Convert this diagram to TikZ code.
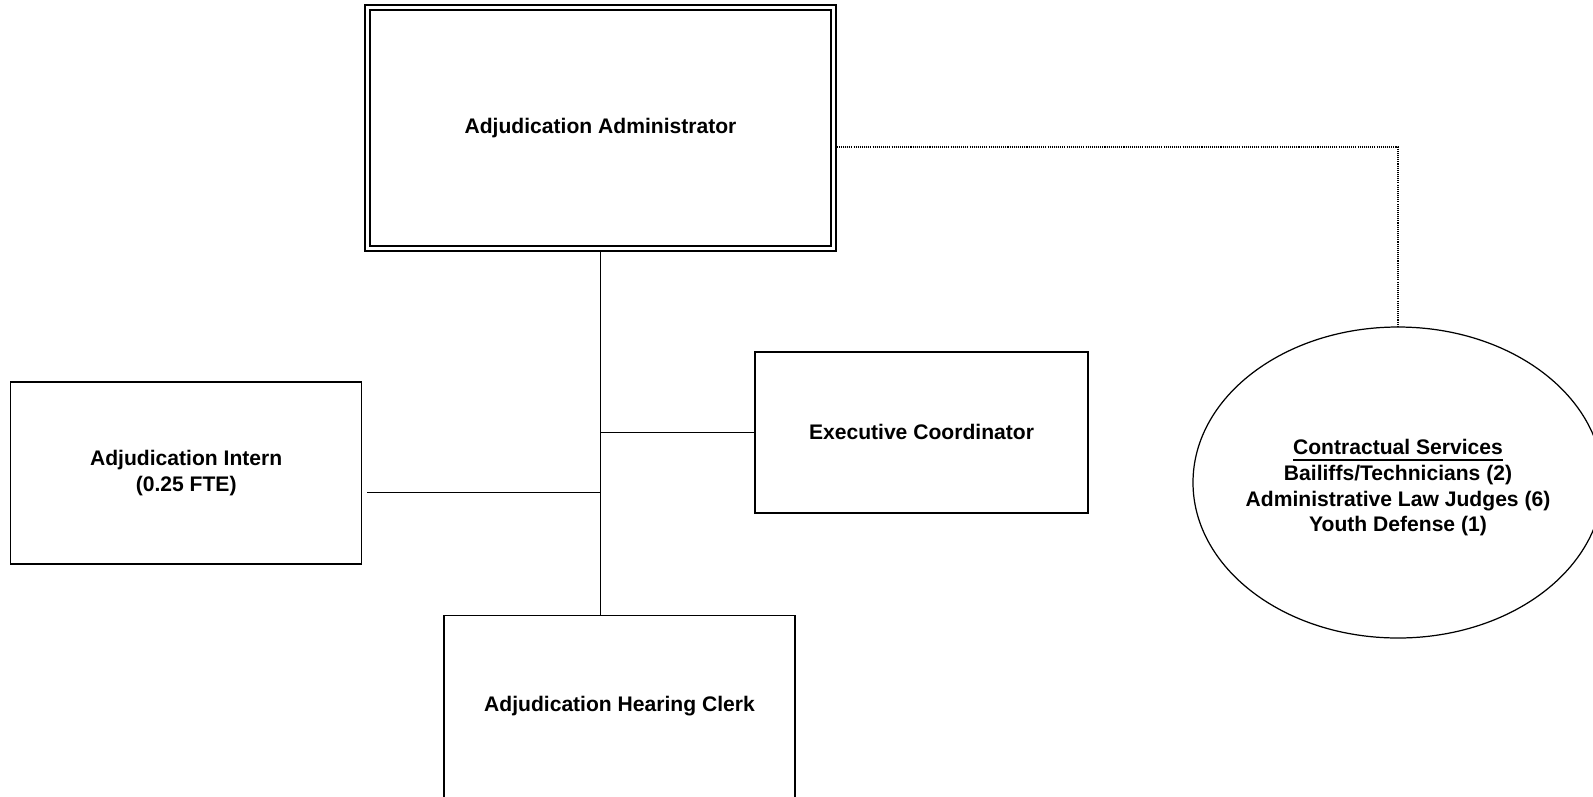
\documentclass[tikz,border=0pt]{standalone}
\usepackage{fontspec}
\setmainfont{Liberation Sans}
\usetikzlibrary{shapes.geometric,fit}
\tikzset{
  tag/.style={font=\bfseries\fontsize{6}{7.3}\selectfont, align=center},
  post/.style={tag, draw, line width=0.35pt, inner sep=0pt},
  link/.style={line width=0.3pt},
}

\begin{document}
\begin{tikzpicture}
    \useasboundingbox (0,0) rectangle (159.3mm,-79.6mm);

    \node [post, minimum width=46.1mm, minimum height=23.6mm] (adm) at (60.05mm,-12.8mm) {Adjudication Administrator};
    \node [draw, line width=0.6pt, fit=(adm), inner sep=0.4mm] (frame) {};

    \node [post, minimum width=35.1mm, minimum height=18.2mm] (intern) at (18.62mm,-47.29mm) {Adjudication Intern\\(0.25 FTE)};
    \node [post, minimum width=33.3mm, minimum height=16.1mm] (exec) at (92.15mm,-43.24mm) {Executive Coordinator};
    \node [post, minimum width=35.1mm, minimum height=18.2mm] (clerk) at (61.95mm,-70.65mm) {Adjudication Hearing Clerk};

    \node [draw, ellipse, line width=0.35pt, inner sep=0pt, minimum width=41mm, minimum height=31.1mm] (contract) at (139.8mm,-48.25mm) {};
    \node [tag] (staff) at ([yshift=-0.55mm]contract.center)
    {\underline{Contractual Services}\\Bailiffs/Technicians (2)\\Administrative Law Judges (6)\\Youth Defense (1)};

    \coordinate (tap) at ([xshift=0.5mm, yshift=-2mm]intern.east);
    \draw [link]
    (frame.south) -- (frame.south |- clerk.north)
    (exec.west) -- (exec.west -| frame.south)
    (tap) -- (tap -| frame.south);
    \draw [link, dash pattern=on 0.3pt off 0.3pt] ([yshift=-1.9mm]frame.east) -| (contract.north);
\end{tikzpicture}
\end{document}
